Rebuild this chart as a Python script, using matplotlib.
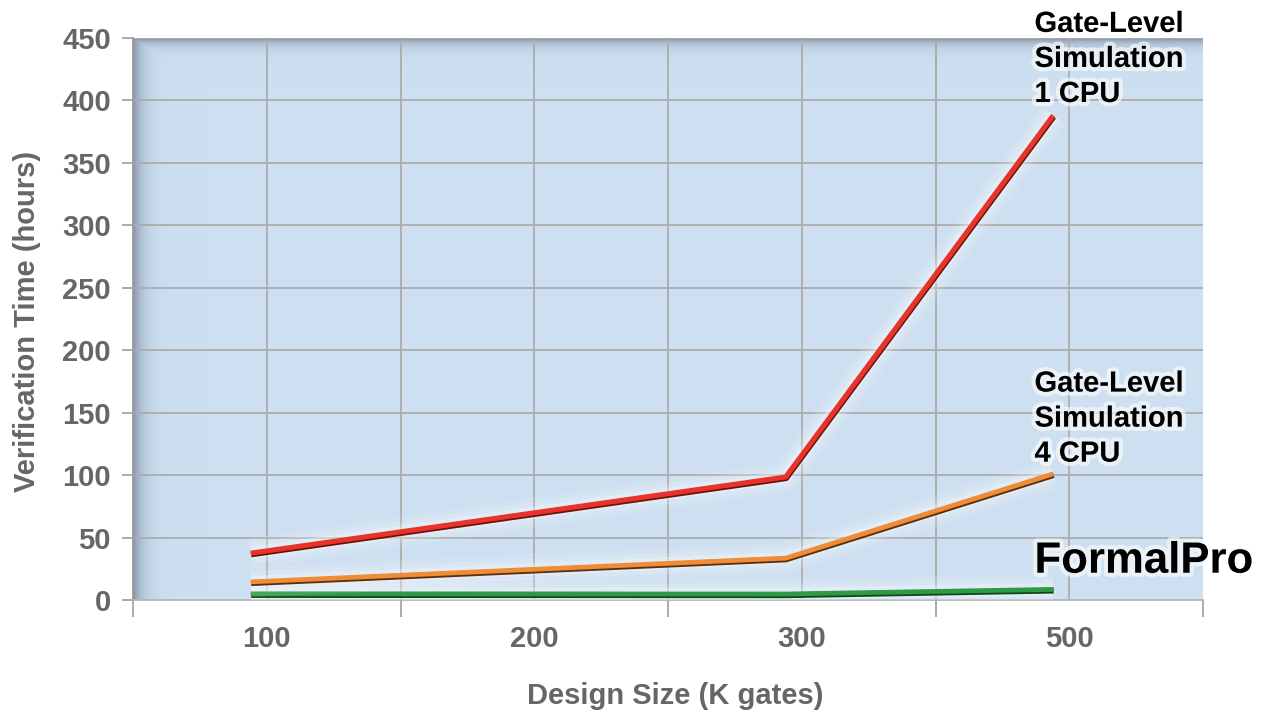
import numpy as np
import matplotlib
matplotlib.use("Agg")
import matplotlib.pyplot as plt
import matplotlib.patheffects as pe

# categories along the x axis (labels sit at odd half-steps)
size_labels = ["100", "200", "300", "500"]
label_pos = [1, 3, 5, 7]

# measured points: designs of 100, 300 and 500 K gates
point_pos = np.array([1, 5, 7]) - 0.12
gls_1cpu = [37.5, 98.5, 388]
gls_4cpu = [14.5, 33.5, 101]
formalpro = [5, 4.8, 8.5]

y_ticks = list(range(0, 451, 50))

GRAY_TXT = "#666666"
GRID = "#ababab"

plt.rcParams['font.family'] = ['Liberation Sans', 'DejaVu Sans']

fig = plt.figure(figsize=(12.63, 7.15), dpi=100)
ax = fig.add_axes([133/1263, 115/715, 1070/1263, 562/715])
ax.set_xlim(0, 8)
ax.set_ylim(0, 450)

# background with a bevelled (darker) top and left edge
H, W = 562, 1070
yy, xx = np.mgrid[0:H, 0:W]
d = np.maximum(np.exp(-xx / 9.0), np.exp(-yy / 6.0))
base = np.array([0.804, 0.878, 0.945])
edge = np.array([0.52, 0.58, 0.66])
img = base[None, None, :] + (edge - base)[None, None, :] * d[..., None]
ax.imshow(img, extent=[0, 1, 0, 1], transform=ax.transAxes, aspect='auto',
          zorder=0, interpolation='bilinear')

# grid
for v in range(1, 8):
    ax.axvline(v, color=GRID, lw=1.3, zorder=1)
for v in y_ticks[1:]:
    ax.axhline(v, color=GRID, lw=1.3, zorder=1)

def fx(dark):
    return [pe.Stroke(linewidth=22, foreground='white', alpha=0.10),
            pe.Stroke(linewidth=15, foreground='white', alpha=0.15),
            pe.Stroke(linewidth=9, foreground='white', alpha=0.25),
            pe.Stroke(linewidth=4.2, foreground=dark, offset=(0.3, -0.9)),
            pe.Normal()]

ax.plot(point_pos, formalpro, color="#2f9a45", lw=3.4, zorder=3,
        solid_capstyle='butt', path_effects=fx("#0d4a1a"))
ax.plot(point_pos, gls_4cpu, color="#f08c35", lw=3.4, zorder=3,
        solid_capstyle='butt', path_effects=fx("#5a3010"))
ax.plot(point_pos, gls_1cpu, color="#e8332b", lw=3.6, zorder=4,
        solid_capstyle='butt', path_effects=fx("#6a1208"))

glow = [pe.withStroke(linewidth=6, foreground='white', alpha=0.6)]
ax.text(6.74, 472.5, "Gate-Level\nSimulation\n1 CPU", fontsize=21, fontweight='bold',
        color='black', va='top', ha='left', linespacing=1.32, clip_on=False,
        zorder=6, path_effects=glow)
ax.text(6.74, 184.5, "Gate-Level\nSimulation\n4 CPU", fontsize=21, fontweight='bold',
        color='black', va='top', ha='left', linespacing=1.32, clip_on=False,
        zorder=6, path_effects=glow)
ax.text(6.74, 47.5, "FormalPro", fontsize=31.5, fontweight='bold',
        color='black', va='top', ha='left', clip_on=False,
        zorder=6, path_effects=glow)

# axes / ticks
for s in ['top', 'right']:
    ax.spines[s].set_visible(False)
ax.spines['left'].set_color("#9a9a9a")
ax.spines['bottom'].set_color("#b5b5b5")
ax.spines['left'].set_linewidth(1.3)
ax.spines['bottom'].set_linewidth(1.3)

ax.set_yticks(y_ticks)
ax.set_yticklabels([str(v) for v in y_ticks])
ax.tick_params(axis='y', length=8, width=1.3, color="#a5a5a5", pad=8,
               labelsize=21, labelcolor=GRAY_TXT)
ax.set_xticks([0, 2, 4, 6, 8])
ax.set_xticklabels([])
ax.tick_params(axis='x', which='major', length=12, width=1.3, color="#a5a5a5")
ax.set_xticks(label_pos, minor=True)
ax.set_xticklabels(size_labels, minor=True)
ax.tick_params(axis='x', which='minor', length=0, pad=18,
               labelsize=21, labelcolor=GRAY_TXT)
for t in ax.get_yticklabels() + ax.get_xticklabels(minor=True):
    t.set_fontweight('bold')

fig.text(675/1263, 1 - 696/715, "Design Size (K gates)", fontsize=21,
         fontweight='bold', color=GRAY_TXT, ha='center', va='center')
fig.text(27/1263, 1 - 321/715, "Verification Time (hours)", fontsize=21,
         fontweight='bold', color=GRAY_TXT, ha='center', va='center',
         rotation=90)

fig.savefig("out.png", dpi=100)
